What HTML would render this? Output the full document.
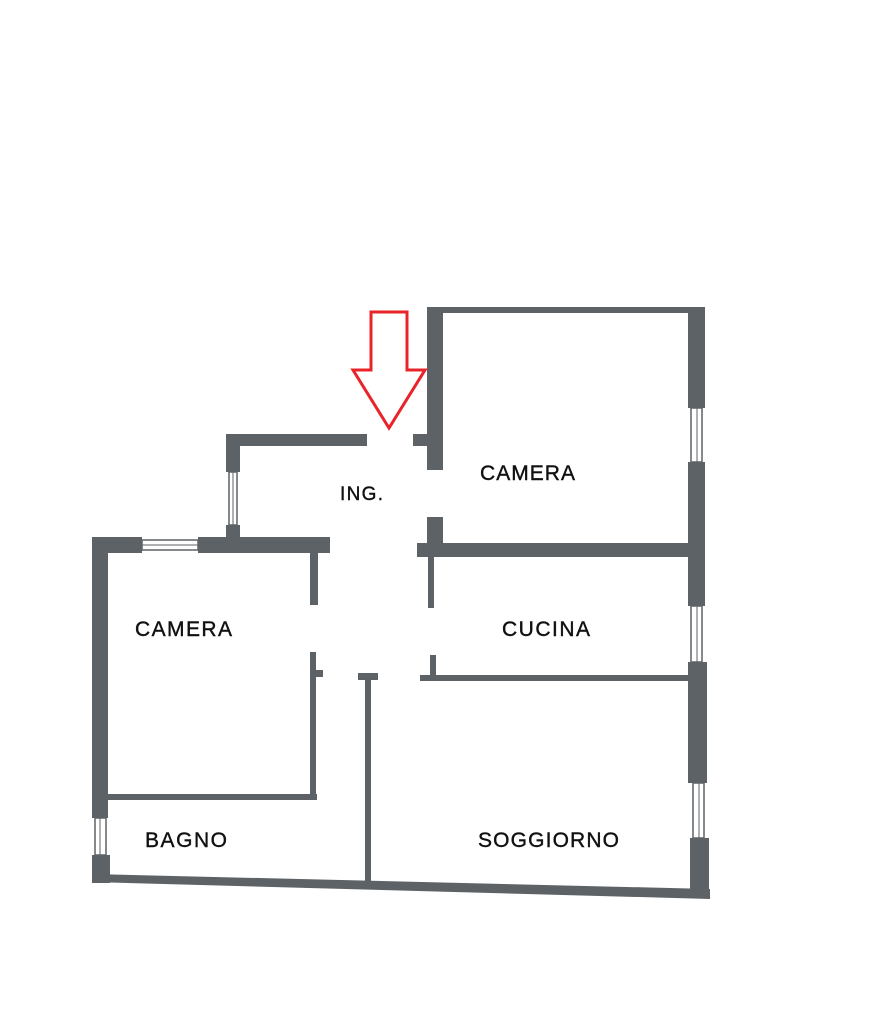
<!DOCTYPE html>
<html><head><meta charset="utf-8"><style>
html,body{margin:0;padding:0;background:#fff;}
svg{display:block}
text{font-family:"Liberation Sans",sans-serif;font-size:21px;fill:#111;stroke:#111;stroke-width:0.4;}
</style></head><body>
<svg width="874" height="1024" viewBox="0 0 874 1024" xmlns="http://www.w3.org/2000/svg">
<g fill="#5d6266">
<rect x="427" y="307" width="16" height="163"/>
<rect x="413" y="434" width="16" height="12"/>
<rect x="443" y="307" width="247" height="6"/>
<rect x="688" y="307" width="17" height="101"/>
<rect x="688" y="462" width="17" height="144"/>
<rect x="688" y="662" width="19" height="121"/>
<rect x="690" y="838" width="19" height="58"/>
<rect x="226" y="434" width="141" height="12"/>
<rect x="226" y="434" width="14" height="38"/>
<rect x="226" y="525" width="14" height="15"/>
<rect x="92" y="537" width="16" height="281"/>
<rect x="92" y="855" width="18" height="28"/>
<rect x="92" y="537" width="50" height="16"/>
<rect x="198" y="537" width="132" height="16"/>
<rect x="310" y="553" width="8" height="52"/>
<rect x="427" y="517" width="16" height="26"/>
<rect x="417" y="543" width="273" height="14"/>
<rect x="428" y="557" width="6" height="51"/>
<rect x="108" y="794" width="209" height="6"/>
<rect x="310" y="652" width="6" height="148"/>
<rect x="316" y="670" width="7" height="7"/>
<rect x="358" y="673" width="20" height="7"/>
<rect x="365" y="680" width="6" height="202"/>
<rect x="430" y="655" width="6" height="23"/>
<rect x="420" y="675" width="270" height="6"/>
<polygon points="92,874 710,889 710,899 92,882"/>
</g>
<g fill="#fff" stroke="#5d6266" stroke-width="1.5">
<rect x="691" y="408" width="11" height="54"/>
<rect x="691" y="606" width="11" height="56"/>
<rect x="693" y="783" width="11" height="55"/>
<rect x="95" y="818" width="11" height="37"/>
<rect x="142" y="540" width="56" height="10"/>
<rect x="229" y="472" width="8" height="53"/>
</g>
<g stroke="#5d6266" stroke-width="1">
<line x1="697" y1="408" x2="697" y2="462"/>
<line x1="697" y1="606" x2="697" y2="662"/>
<line x1="699" y1="783" x2="699" y2="838"/>
<line x1="100" y1="818" x2="100" y2="855"/>
<line x1="142" y1="545" x2="198" y2="545"/>
<line x1="233" y1="472" x2="233" y2="525"/>
</g>
<polygon points="371,312 407,312 407,370 425,370 389,428 353,370 371,370" fill="none" stroke="#e8242a" stroke-width="3"/>
<text x="480" y="480" textLength="95">CAMERA</text>
<text x="340" y="500" style="font-size:19px" textLength="43">ING.</text>
<text x="135" y="636" textLength="97">CAMERA</text>
<text x="502" y="636" textLength="88">CUCINA</text>
<text x="145" y="847" textLength="82">BAGNO</text>
<text x="478" y="847" textLength="141">SOGGIORNO</text>
</svg>
</body></html>
